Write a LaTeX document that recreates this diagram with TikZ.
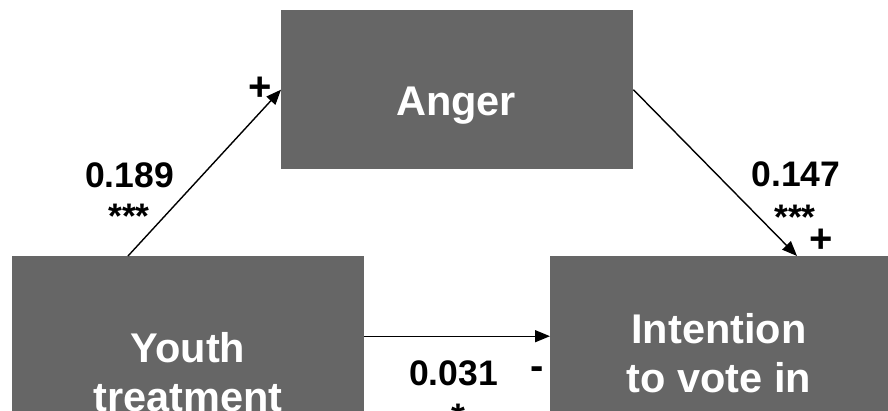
\documentclass[tikz,border=0pt]{standalone}
\usepackage{fontspec}
\setmainfont{Liberation Sans}
\usetikzlibrary{arrows.meta}
\definecolor{boxgray}{RGB}{102,102,102}
\tikzset{
  box/.style={rectangle, fill=boxgray, draw=none, inner sep=0pt, anchor=north west,
    minimum width=352pt, minimum height=160pt},
  boxtext/.style={text=white, inner sep=0pt, anchor=base,
    font=\fontsize{41.5}{49}\selectfont\bfseries},
  coef/.style={text=black, inner sep=0pt, anchor=base,
    font=\fontsize{35.5}{40}\selectfont\bfseries},
  sign/.style={text=black, inner sep=0pt, anchor=center,
    font=\fontsize{40}{44}\selectfont\bfseries},
  arr/.style={-{Triangle[length=15pt,width=12pt]}, line width=1.4pt, black},
}
\begin{document}
\begin{tikzpicture}[x=1pt, y=-1pt]
  \useasboundingbox (0,0) rectangle (888,410);
  \clip (0,0) rectangle (888,410);

  % variable boxes
  \node[box] (anger) at (281,10) [minimum height=159pt] {};
  \node[box] (youth) at (12,256) {};
  \node[box] (intent) at (550,256) {};

  % box captions
  \node[boxtext] (angerT) at (456,115) {Anger};
  \node[boxtext] (youthA) at (188,362) {Youth};
  \node[boxtext] (youthB) at (188,411) {treatment};
  \node[boxtext] (intentA) at (719,343) {Intention};
  \node[boxtext] (intentB) at (719,392) {to vote in};

  % paths
  \draw[arr] ([xshift=116pt]youth.north west) -- (anger.west);
  \draw[arr] (anger.east) -- ([xshift=247pt]intent.north west);
  \draw[arr] (youth.east) -- (intent.west);

  % coefficients and signs
  \node[coef] (c1) at (129.5,187) {0.189};
  \node[coef] (s1) at (129,228) {***};
  \node[sign] (p1) at (260,88.5) {+};

  \node[coef] (c2) at (796,186) {0.147};
  \node[coef] (s2) at (795,229) {***};
  \node[sign] (p2) at (821,241) {+};

  \node[coef] (c3) at (453.5,385) {0.031};
  \node[coef] (s3) at (458,428) {*};
  \node[sign] (m3) at (537,373) {-};
\end{tikzpicture}
\end{document}
